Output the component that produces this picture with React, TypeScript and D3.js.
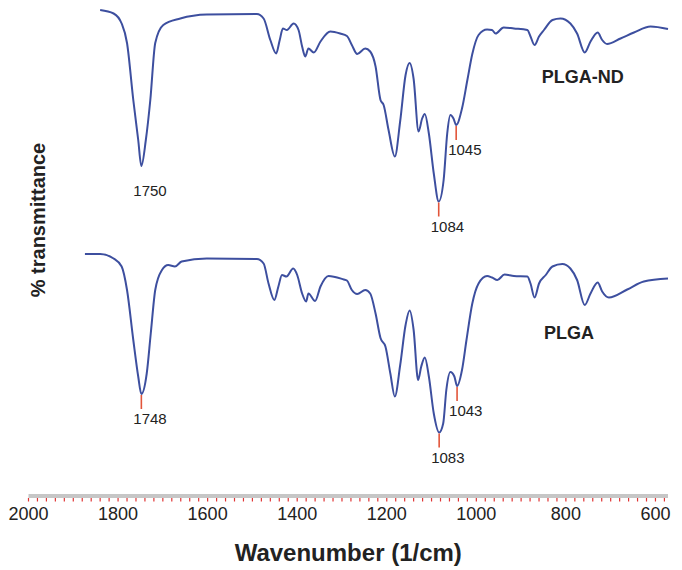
import React from "react";
import * as d3 from "d3";

// Wavenumbers (cm^-1) and offset transmittance values
const ndWavenumber = [1840, 1810, 1792, 1780, 1766, 1755, 1748, 1738, 1728, 1717, 1699, 1661, 1602, 1490, 1475, 1460, 1447, 1439, 1432, 1423, 1408, 1397, 1389, 1382, 1375, 1363, 1348, 1326, 1304, 1289, 1278, 1266, 1248, 1237, 1225, 1214, 1207, 1196, 1182, 1170, 1158, 1149, 1140, 1129, 1121, 1115, 1106, 1095, 1084, 1073, 1065, 1058, 1051, 1045, 1032, 1020, 1009, 995, 976, 965, 957, 939, 916, 886, 879, 870, 860, 849, 830, 812, 790, 775, 758, 745, 729, 719, 708, 678, 648, 611, 572];
const ndTransmittance = [98, 97.3, 95.3, 91.4, 80, 72, 66.8, 72, 80, 91.4, 95, 96.3, 97.1, 97.2, 96.3, 92, 89.3, 92, 94.3, 94, 95.3, 94, 90.7, 88.7, 90.3, 89.5, 91.7, 93.7, 93.3, 92.8, 91, 89.2, 90.3, 89.7, 86.7, 80, 79, 74, 68.7, 75.8, 85, 87.4, 84.2, 73.7, 76.3, 77.2, 73.3, 65.3, 59.7, 64, 73.3, 77, 76.3, 75, 78.3, 84, 89.2, 93, 94.1, 94, 93.3, 94.5, 94.3, 94, 92.7, 91, 92.7, 94, 96, 96.3, 95.3, 93.3, 89.5, 91.7, 93.5, 92, 91.2, 92.3, 93.5, 94.7, 94.2];

const plgaWavenumber = [1874, 1840, 1810, 1792, 1780, 1766, 1755, 1748, 1736, 1727, 1717, 1702, 1688, 1673, 1658, 1602, 1490, 1475, 1464, 1451, 1442, 1434, 1424, 1409, 1400, 1389, 1380, 1375, 1360, 1348, 1330, 1296, 1289, 1278, 1266, 1248, 1237, 1225, 1214, 1203, 1192, 1182, 1170, 1158, 1149, 1140, 1130, 1123, 1115, 1106, 1095, 1083, 1074, 1067, 1058, 1049, 1043, 1032, 1022, 1009, 995, 976, 965, 953, 937, 916, 886, 879, 870, 860, 845, 830, 808, 790, 775, 758, 745, 729, 719, 704, 663, 626, 572];
const plgaTransmittance = [49.2, 49.2, 48.3, 46.7, 42, 32, 24.7, 21.2, 25.3, 33.3, 42, 46, 47, 46.7, 47.7, 48.3, 48.2, 47.3, 43.3, 40, 42.7, 45, 44.7, 46.3, 45, 41.3, 39.7, 41.3, 39.8, 42.7, 44.8, 44.1, 43.9, 42, 41.2, 42, 41.3, 37.3, 32.4, 30.7, 25.3, 20.7, 27, 35, 37.9, 34, 24, 26.7, 28.5, 24.7, 17.3, 13.5, 15.3, 22, 25.6, 24.7, 22.8, 26, 32, 39.3, 43.3, 44.8, 44.5, 44, 45.1, 44.8, 44.7, 43.3, 40.5, 43.3, 45, 46.7, 47.2, 46.3, 44, 39, 41.3, 43.5, 41.7, 40.5, 42.1, 43.7, 44.3];

// Annotated peaks
const peakSeries = ["PLGA-ND", "PLGA-ND", "PLGA-ND", "PLGA", "PLGA", "PLGA"];
const peakLabels = ["1750", "1084", "1045", "1748", "1083", "1043"];
const peakWavenumber = [1748, 1084, 1045, 1748, 1083, 1043];
const peakMarked = [false, true, true, true, true, true];

const xTickValues = [2000, 1800, 1600, 1400, 1200, 1000, 800, 600];
const seriesNames = ["PLGA-ND", "PLGA"];

const FONT = "'Liberation Sans', Arial, Helvetica, sans-serif";

export default function App() {
  const width = 682;
  const height = 570;
  const x = d3.scaleLinear().domain([2000, 572]).range([28.5, 668]);
  const y = d3.scaleLinear().domain([0, 100]).range([500, 0]);

  const series = [
    { name: seriesNames[0], wn: ndWavenumber, t: ndTransmittance },
    { name: seriesNames[1], wn: plgaWavenumber, t: plgaTransmittance },
  ];

  const line = d3
    .line<[number, number]>()
    .x((d) => x(d[0]))
    .y((d) => y(d[1]))
    .curve(d3.curveMonotoneX);

  const interp = (s: { wn: number[]; t: number[] }, w: number) => {
    let best = 0;
    for (let i = 0; i < s.wn.length; i++)
      if (Math.abs(s.wn[i] - w) < Math.abs(s.wn[best] - w)) best = i;
    return s.t[best];
  };

  const minorTicks = d3.range(2000, 570, -20);
  const axisY = 496;

  const seriesLabelPos = [
    { wn: 854, t: 83.5 },
    { wn: 849, t: 32.2 },
  ];

  return (
    <svg
      width={width}
      height={height}
      style={{ position: "absolute", left: 0, top: 0, background: "#fff" }}
      fontFamily={FONT}
    >
      {series.map((s) => (
        <path
          key={s.name}
          d={line(s.wn.map((w, i) => [w, s.t[i]] as [number, number])) || ""}
          fill="none"
          stroke="#3d4f9f"
          strokeWidth={2}
          strokeLinejoin="round"
        />
      ))}

      {peakLabels.map((lab, i) => {
        const s = series.find((q) => q.name === peakSeries[i])!;
        const px = x(peakWavenumber[i]);
        const py = y(interp(s, peakWavenumber[i])) + 1;
        return (
          <g key={lab + i}>
            {peakMarked[i] && (
              <line x1={px} x2={px} y1={py} y2={py + 14} stroke="#e2553a" strokeWidth={1.6} />
            )}
            <text x={px - 8} y={py + 29} fontSize={15} fill="#222">
              {lab}
            </text>
          </g>
        );
      })}

      {series.map((s, i) => (
        <text
          key={"lbl" + s.name}
          x={x(seriesLabelPos[i].wn)}
          y={y(seriesLabelPos[i].t)}
          fontSize={18}
          fontWeight="bold"
          fill="#222"
        >
          {s.name}
        </text>
      ))}

      <line x1={x(2000)} x2={x(572)} y1={axisY} y2={axisY} stroke="#c6c6c6" strokeWidth={4} />
      {minorTicks.map((t) => (
        <line key={t} x1={x(t)} x2={x(t)} y1={axisY + 2} y2={axisY + 5.5} stroke="#e03434" strokeWidth={1.2} />
      ))}
      {xTickValues.map((t) => (
        <text key={"t" + t} x={x(t)} y={520} fontSize={18} textAnchor="middle" fill="#222">
          {t}
        </text>
      ))}
      <text x={(x(2000) + x(572)) / 2} y={561} fontSize={24} fontWeight="bold" textAnchor="middle" fill="#222">
        Wavenumber (1/cm)
      </text>
      <text
        transform="translate(45,220) rotate(-90)"
        fontSize={20}
        fontWeight="bold"
        textAnchor="middle"
        fill="#222"
      >
        % transmittance
      </text>
    </svg>
  );
}
